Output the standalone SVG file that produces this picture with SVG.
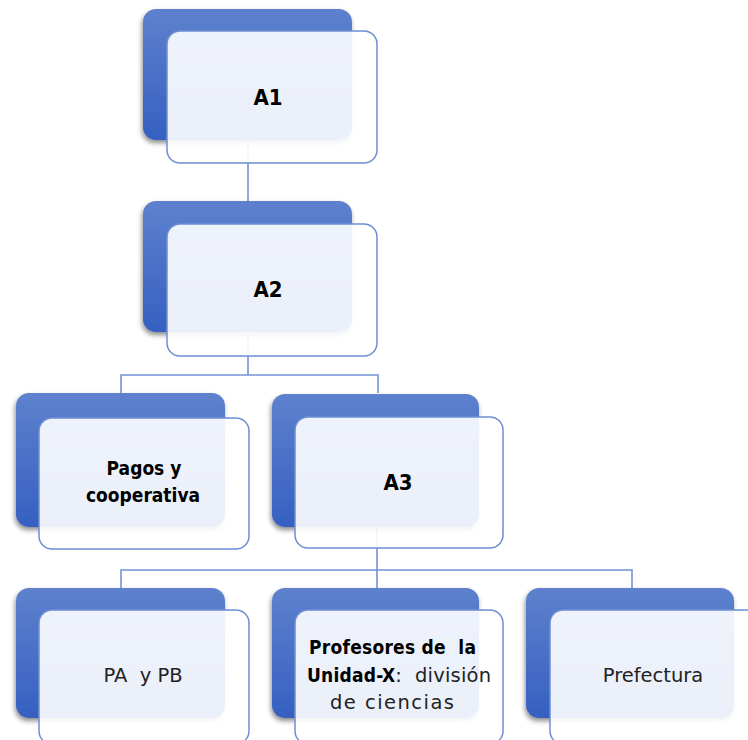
<svg xmlns="http://www.w3.org/2000/svg" width="748" height="740" viewBox="0 0 748 740">
  <defs>
    <linearGradient id="backFill" x1="0" y1="0" x2="0" y2="1">
      <stop offset="0" stop-color="#5d81cd"/>
      <stop offset="1" stop-color="#3660c1"/>
    </linearGradient>
    <filter id="shadow" x="-10%" y="-10%" width="125%" height="130%">
      <feDropShadow dx="-1" dy="3" stdDeviation="2.5" flood-color="#000" flood-opacity="0.45"/>
    </filter>
    <style>
      .back { fill: url(#backFill); filter: url(#shadow); }
      .front { fill: #ffffff; fill-opacity: 0.9; stroke: #6d8fd2; stroke-width: 1.5; }
      .link { fill: none; stroke: #7193d5; stroke-width: 1.6; }
      .title { font-family: "DejaVu Sans Condensed", "DejaVu Sans", sans-serif; font-weight: bold; font-size: 22px; fill: #000; text-anchor: middle; }
      .bold { font-family: "DejaVu Sans Condensed", "DejaVu Sans", sans-serif; font-weight: bold; font-size: 19px; fill: #000; }
      .plain { font-family: "DejaVu Sans", sans-serif; font-size: 19.5px; fill: #222; }
      .mid { text-anchor: middle; }
    </style>
  </defs>

  <!-- connectors -->
  <g id="connectors">
    <path class="link" d="M248,139 V201"/>
    <path class="link" d="M248,333 V375 M121,393 V375 H378 V393"/>
    <path class="link" d="M377,527 V570 M121,588 V570 H632 V588 M377,570 V588"/>
  </g>

  <g id="node-a1">
    <rect class="back" x="143" y="9" width="209" height="131" rx="13"/>
    <rect class="front" x="167" y="31" width="210" height="132" rx="13"/>
    <text class="title" x="268" y="105">A1</text>
  </g>

  <g id="node-a2">
    <rect class="back" x="143" y="201" width="209" height="131" rx="13"/>
    <rect class="front" x="167" y="224" width="210" height="132" rx="13"/>
    <text class="title" x="268" y="297">A2</text>
  </g>

  <g id="node-pagos">
    <rect class="back" x="16" y="393" width="209" height="134" rx="13"/>
    <rect class="front" x="39" y="418" width="210" height="131" rx="13"/>
    <text class="bold mid" x="144" y="475">Pagos y</text>
    <text class="bold mid" x="143" y="502">cooperativa</text>
  </g>

  <g id="node-a3">
    <rect class="back" x="272" y="394" width="207" height="133" rx="13"/>
    <rect class="front" x="295" y="417" width="208" height="131" rx="13"/>
    <text class="title" x="398" y="490">A3</text>
  </g>

  <g id="node-pa-pb">
    <rect class="back" x="16" y="588" width="209" height="130" rx="13"/>
    <rect class="front" x="39" y="610" width="210" height="134" rx="13"/>
    <text class="plain mid" x="143" y="682">PA&#160; y PB</text>
  </g>

  <g id="node-profesores">
    <rect class="back" x="272" y="588" width="207" height="130" rx="13"/>
    <rect class="front" x="295" y="610" width="208" height="134" rx="13"/>
    <text class="bold" x="309" y="654" textLength="167" lengthAdjust="spacing">Profesores de&#160; la</text>
    <text x="307" y="682" textLength="184" lengthAdjust="spacing"><tspan class="bold">Unidad-X</tspan><tspan class="plain">:&#160; división</tspan></text>
    <text class="plain" x="330" y="709" textLength="124" lengthAdjust="spacing">de ciencias</text>
  </g>

  <g id="node-prefectura">
    <rect class="back" x="526" y="588" width="208" height="130" rx="13"/>
    <rect class="front" x="550" y="610" width="210" height="134" rx="13"/>
    <text class="plain mid" x="653" y="682">Prefectura</text>
  </g>
</svg>
